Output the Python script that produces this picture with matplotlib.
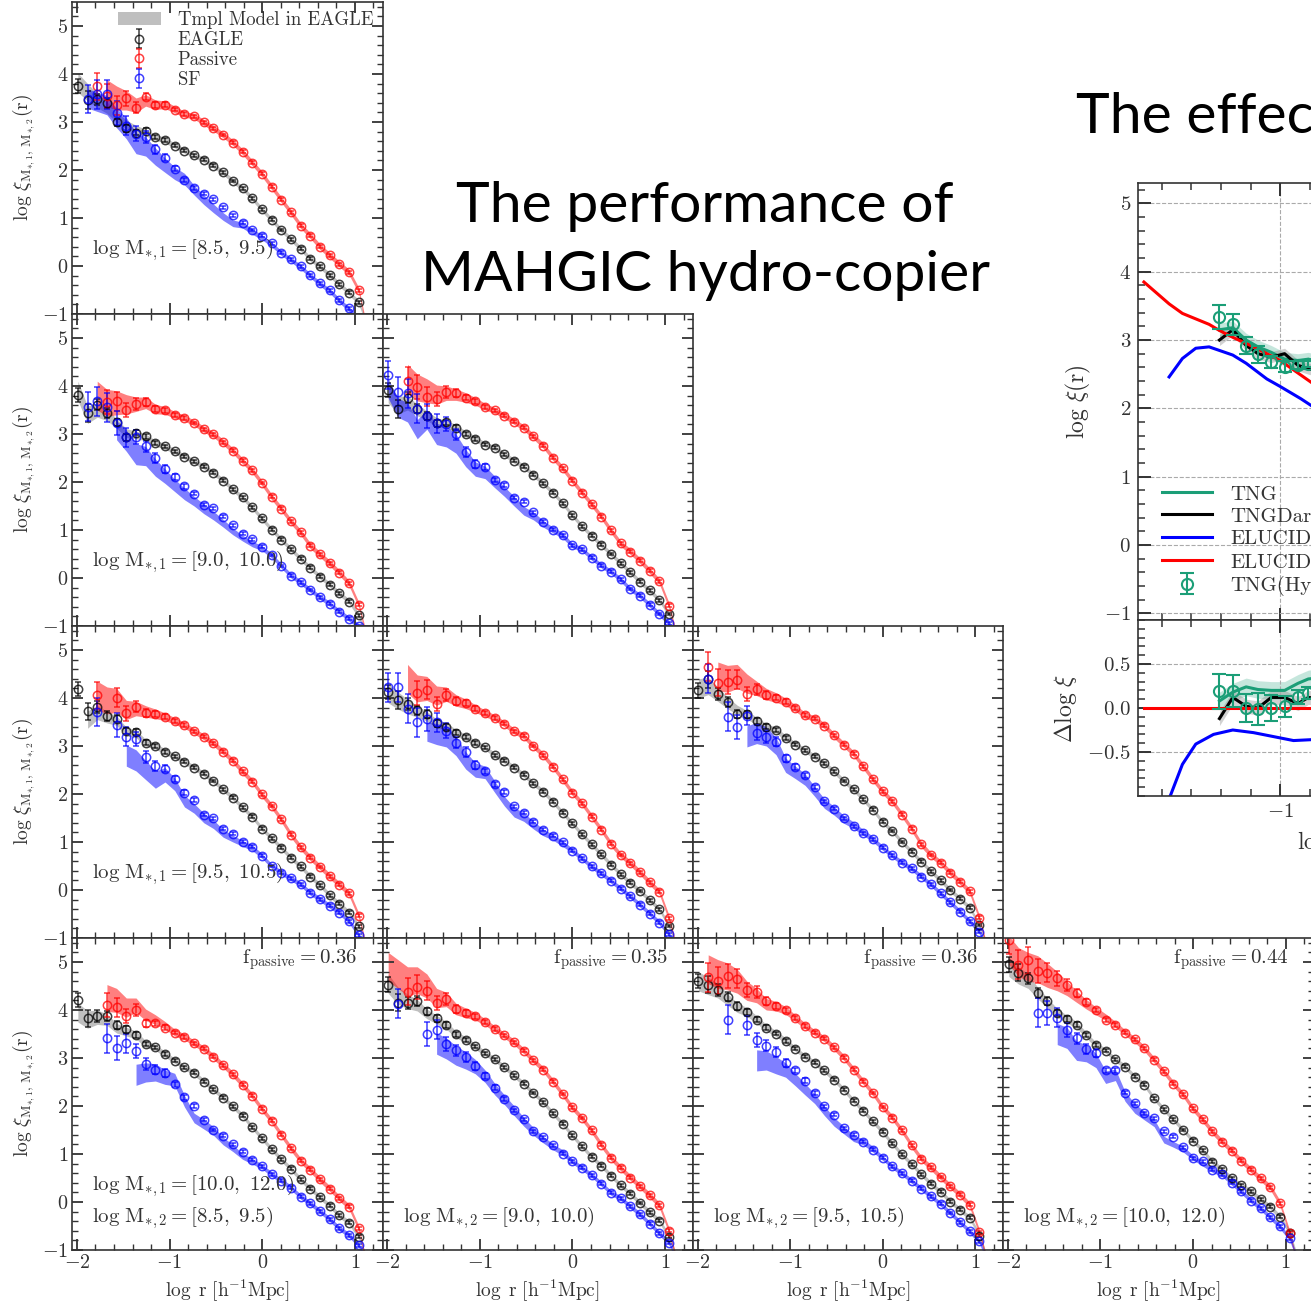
import numpy as np
import matplotlib as mpl
mpl.use('agg')
import matplotlib.pyplot as plt
from matplotlib.ticker import MultipleLocator, NullFormatter
from matplotlib.patches import Patch

nan = np.nan

# radial bins (log r [h^-1 Mpc]) and the model grid (one extra bin at large r)
logr = [-1.990, -1.885, -1.781, -1.676, -1.572, -1.467, -1.362, -1.258, -1.153, -1.049,
        -0.944, -0.839, -0.735, -0.630, -0.526, -0.421, -0.316, -0.212, -0.107, -0.003,
        0.102, 0.207, 0.311, 0.416, 0.520, 0.625, 0.730, 0.834, 0.939, 1.043]
logr_mod = logr + [1.15]

mbins = ['[8.5,\\ 9.5)', '[9.0,\\ 10.0)', '[9.5,\\ 10.5)', '[10.0,\\ 12.0)']
f_passive = [0.36, 0.35, 0.36, 0.44]

err_all = [0.15, 0.18, 0.12, 0.10, 0.08, 0.07, 0.06, 0.05, 0.04, 0.04] + [0.03]*20
err_pas = [0.30, 0.30, 0.28, 0.25, 0.20, 0.15, 0.12, 0.08, 0.06, 0.05, 0.04, 0.04] + [0.03]*18
err_sf = [0.30, 0.30, 0.30, 0.30, 0.25, 0.20, 0.15, 0.12, 0.10, 0.08, 0.06, 0.05, 0.04] + [0.03]*17

hw_all = [0.20, 0.18, 0.15, 0.12, 0.10, 0.09, 0.08, 0.07, 0.06, 0.06] + [0.05]*21
hw_pas = [0.30, 0.30, 0.30, 0.28, 0.25, 0.20, 0.15, 0.12, 0.10, 0.08, 0.07] + [0.06]*20
hw_sf = [0.20, 0.20, 0.20, 0.20, 0.20, 0.22, 0.22, 0.20, 0.18, 0.15, 0.13, 0.12, 0.10, 0.10,
         0.09, 0.08, 0.07, 0.06, 0.06] + [0.05]*12

# ---- row 0 ----
xi_all_00 = [3.75,3.46,3.47,3.40,2.99,2.87,2.78,2.82,2.68,2.62,2.51,2.40,2.31,2.21,2.09,1.95,1.77,1.62,1.41,1.18,0.96,0.75,0.56,0.36,0.15,-0.01,-0.19,-0.38,-0.56,-0.76]
xi_pas_00 = [nan,nan,3.74,3.55,3.35,3.49,3.30,3.53,3.36,3.36,3.26,3.16,3.12,2.99,2.87,2.73,2.57,2.38,2.15,1.92,1.65,1.38,1.12,0.84,0.63,0.40,0.22,0.04,-0.13,-0.51]
xi_sf_00 = [nan,3.48,3.58,3.58,3.18,2.92,2.76,2.69,2.43,2.26,2.03,1.79,1.62,1.51,1.39,1.22,1.06,0.90,0.75,0.63,0.47,0.28,0.14,-0.01,-0.19,-0.36,-0.51,-0.71,-0.88,nan]
mod_all_00 = [3.82,3.62,3.45,3.3,3.1,2.95,2.85,2.78,2.68,2.62,2.51,2.40,2.31,2.21,2.09,1.95,1.77,1.62,1.41,1.18,0.96,0.75,0.56,0.36,0.15,-0.01,-0.19,-0.38,-0.56,-0.76,-1.3]
mod_pas_00 = [nan,nan,nan,3.6,3.5,3.45,3.35,3.45,3.36,3.36,3.26,3.16,3.12,2.99,2.87,2.73,2.57,2.38,2.15,1.92,1.65,1.38,1.12,0.84,0.63,0.40,0.22,0.04,-0.13,-0.51,-1.5]
mod_sf_00 = [nan,3.49,3.42,3.35,3.08,2.87,2.56,2.49,2.28,2.10,1.93,1.81,1.58,1.38,1.20,1.03,0.89,0.85,0.72,0.60,0.45,0.27,0.13,-0.02,-0.20,-0.37,-0.52,-0.72,-0.9,-1.1,-1.4]

# ---- row 1 ----
xi_all_10 = [3.81,3.44,3.61,3.44,3.24,2.93,3.03,2.95,2.81,2.74,2.64,2.53,2.43,2.32,2.19,2.03,1.85,1.68,1.47,1.24,1.01,0.80,0.60,0.40,0.21,0.03,-0.14,-0.32,-0.49,-0.78]
xi_pas_10 = [nan,nan,nan,3.66,3.68,3.50,3.63,3.66,3.52,3.49,3.40,3.33,3.23,3.10,2.99,2.83,2.65,2.44,2.24,1.98,1.69,1.44,1.18,0.95,0.67,0.49,0.31,0.11,-0.11,-0.56]
xi_sf_10 = [nan,3.57,3.68,3.56,3.22,2.93,2.94,2.74,2.50,2.27,2.10,1.91,1.76,1.53,1.45,1.28,1.10,0.92,0.81,0.65,0.48,0.25,0.05,-0.09,-0.25,-0.40,-0.54,-0.70,-0.85,-1.0]
mod_all_10 = [3.9,3.4,3.5,3.4,3.22,3.02,2.98,2.93,2.81,2.74,2.64,2.53,2.43,2.32,2.19,2.03,1.85,1.68,1.47,1.24,1.01,0.80,0.60,0.40,0.21,0.03,-0.14,-0.32,-0.49,-0.78,-1.3]
mod_pas_10 = [nan,nan,3.8,3.65,3.65,3.62,3.62,3.65,3.52,3.49,3.40,3.33,3.23,3.10,2.99,2.83,2.65,2.44,2.24,1.98,1.69,1.44,1.18,0.95,0.67,0.49,0.31,0.11,-0.11,-0.56,-1.4]
mod_sf_10 = [nan,nan,nan,nan,3.08,2.86,2.58,2.54,2.30,2.12,1.93,1.75,1.60,1.44,1.30,1.14,0.97,0.83,0.71,0.62,0.47,0.25,0.05,-0.09,-0.25,-0.40,-0.54,-0.70,-0.85,-1.0,-1.3]

xi_all_11 = [3.92,3.52,3.76,3.53,3.38,3.22,3.24,3.13,3.00,2.90,2.78,2.71,2.58,2.44,2.32,2.15,1.97,1.78,1.56,1.31,1.08,0.88,0.69,0.50,0.31,0.12,-0.08,-0.26,-0.46,-0.75]
xi_pas_11 = [nan,nan,4.11,3.97,3.78,3.73,3.87,3.85,3.76,3.68,3.57,3.49,3.38,3.26,3.13,2.95,2.76,2.51,2.29,2.03,1.78,1.54,1.28,0.99,0.72,0.55,0.36,0.15,-0.07,-0.58]
xi_sf_11 = [4.23,3.88,3.85,3.53,3.38,3.22,3.21,2.99,2.62,2.38,2.31,2.04,1.93,1.67,1.59,1.37,1.17,1.01,0.89,0.68,0.60,0.42,0.26,0.13,-0.03,-0.23,-0.37,-0.56,-0.75,-0.94]
mod_all_11 = [3.85,3.6,3.65,3.5,3.38,3.25,3.2,3.13,3.00,2.90,2.78,2.71,2.58,2.44,2.32,2.15,1.97,1.78,1.56,1.31,1.08,0.88,0.69,0.50,0.31,0.12,-0.08,-0.26,-0.46,-0.75,-1.3]
mod_pas_11 = [nan,nan,4.15,3.97,3.9,3.82,3.85,3.82,3.76,3.68,3.57,3.49,3.38,3.26,3.13,2.95,2.76,2.51,2.29,2.03,1.78,1.54,1.28,0.99,0.72,0.55,0.36,0.15,-0.07,-0.58,-1.4]
mod_sf_11 = [3.95,3.55,3.45,3.1,3.3,3.0,2.95,2.8,2.5,2.27,2.2,2.0,1.8,1.6,1.4,1.29,1.13,1.0,0.89,0.68,0.60,0.42,0.26,0.13,-0.03,-0.23,-0.37,-0.56,-0.75,-0.94,-1.3]

# ---- row 2 ----
xi_all_20 = [4.19,3.72,3.81,3.63,3.57,3.31,3.29,3.07,3.00,2.88,2.79,2.67,2.55,2.42,2.27,2.10,1.92,1.72,1.53,1.28,1.08,0.88,0.67,0.49,0.28,0.10,-0.11,-0.29,-0.47,-0.76]
xi_pas_20 = [nan,nan,4.06,nan,4.01,3.68,3.82,3.69,3.67,3.61,3.52,3.43,3.31,3.19,3.06,2.88,2.69,2.47,2.26,1.99,1.75,1.47,1.15,0.89,0.67,0.48,0.29,0.11,-0.07,-0.54]
xi_sf_20 = [nan,nan,3.71,nan,3.44,3.19,3.14,2.77,2.58,2.53,2.32,2.03,1.87,1.57,1.49,1.28,1.17,1.01,0.90,0.71,0.50,0.36,0.24,0.12,-0.06,-0.19,-0.33,-0.47,-0.65,-0.94]
mod_all_20 = [nan,3.55,3.7,3.6,3.53,3.3,3.25,3.07,3.00,2.88,2.79,2.67,2.55,2.42,2.27,2.10,1.92,1.72,1.53,1.28,1.08,0.88,0.67,0.49,0.28,0.10,-0.11,-0.29,-0.47,-0.76,-1.3]
mod_pas_20 = [nan,nan,4.05,3.95,3.95,3.75,3.78,3.72,3.67,3.61,3.52,3.43,3.31,3.19,3.06,2.88,2.69,2.47,2.26,1.99,1.75,1.47,1.15,0.89,0.67,0.48,0.29,0.11,-0.07,-0.54,-1.4]
mod_sf_20 = [nan,nan,nan,nan,nan,2.8,2.7,2.5,2.3,2.4,2.2,1.85,1.7,1.5,1.37,1.18,1.07,0.97,0.88,0.71,0.50,0.36,0.24,0.12,-0.06,-0.19,-0.33,-0.47,-0.65,-0.94,-1.3]

xi_all_21 = [4.13,3.96,3.88,3.74,3.66,3.47,3.40,3.28,3.18,3.06,2.97,2.81,2.69,2.55,2.40,2.22,2.05,1.84,1.61,1.39,1.16,0.95,0.74,0.53,0.33,0.15,-0.02,-0.21,-0.40,-0.75]
xi_pas_21 = [nan,nan,nan,4.10,4.17,3.87,4.06,3.94,3.89,3.78,3.68,3.59,3.46,3.31,3.21,3.00,2.81,2.57,2.31,2.03,1.81,1.53,1.26,0.96,0.73,0.56,0.37,0.16,-0.04,-0.59]
xi_sf_21 = [4.22,4.22,3.78,3.49,3.56,3.49,3.32,3.07,2.88,2.60,2.47,2.20,2.05,1.74,1.61,1.42,1.26,1.13,0.99,0.82,0.66,0.49,0.35,0.19,0.03,-0.13,-0.31,-0.49,-0.68,-0.92]
mod_all_21 = [4.1,3.95,3.82,3.72,3.62,3.47,3.40,3.28,3.18,3.06,2.97,2.81,2.69,2.55,2.40,2.22,2.05,1.84,1.61,1.39,1.16,0.95,0.74,0.53,0.33,0.15,-0.02,-0.21,-0.40,-0.75,-1.3]
mod_pas_21 = [nan,nan,4.4,4.2,4.2,4.05,4.08,3.95,3.88,3.78,3.68,3.59,3.46,3.31,3.21,3.00,2.81,2.57,2.31,2.03,1.81,1.53,1.26,0.96,0.73,0.56,0.37,0.16,-0.04,-0.59,-1.4]
mod_sf_21 = [nan,nan,nan,nan,3.3,3.25,3.2,3.0,2.7,2.5,2.45,2.15,1.85,1.62,1.52,1.35,1.2,1.1,0.97,0.82,0.66,0.49,0.35,0.19,0.03,-0.13,-0.31,-0.49,-0.68,-0.92,-1.3]

xi_all_22 = [4.16,4.39,4.08,3.92,3.67,3.66,3.52,3.40,3.33,3.17,3.03,2.91,2.78,2.64,2.47,2.27,2.10,1.89,1.67,1.42,1.23,1.00,0.80,0.59,0.39,0.20,0.00,-0.18,-0.37,-0.73]
xi_pas_22 = [nan,4.65,4.32,4.33,4.38,4.08,4.18,4.06,4.01,3.92,3.79,3.64,3.57,3.42,3.22,3.03,2.84,2.58,2.31,2.06,1.85,1.57,1.28,0.95,0.73,0.57,0.36,0.17,-0.03,-0.58]
xi_sf_22 = [nan,4.40,nan,3.61,3.40,3.63,3.28,3.19,3.09,2.74,2.56,2.39,2.15,1.85,1.69,1.49,1.33,1.18,1.06,0.88,0.72,0.57,0.45,0.28,0.12,-0.07,-0.26,-0.45,-0.65,-0.87]
mod_all_22 = [4.2,4.25,4.08,3.9,3.75,3.65,3.52,3.40,3.33,3.17,3.03,2.91,2.78,2.64,2.47,2.27,2.10,1.89,1.67,1.42,1.23,1.00,0.80,0.59,0.39,0.20,0.00,-0.18,-0.37,-0.73,-1.3]
mod_pas_22 = [nan,nan,4.45,4.4,4.45,4.3,4.2,4.08,4.01,3.92,3.79,3.64,3.57,3.42,3.22,3.03,2.84,2.58,2.31,2.06,1.85,1.57,1.28,0.95,0.73,0.57,0.36,0.17,-0.03,-0.58,-1.4]
mod_sf_22 = [nan,nan,nan,nan,nan,3.2,3.27,3.2,3.0,2.6,2.45,2.3,2.05,1.8,1.65,1.47,1.35,1.2,1.06,0.88,0.72,0.57,0.45,0.28,0.12,-0.07,-0.26,-0.45,-0.65,-0.87,-1.3]

# ---- row 3 ----
xi_all_30 = [4.21,3.83,3.88,3.88,3.69,3.60,3.48,3.29,3.22,3.08,2.94,2.81,2.69,2.51,2.35,2.17,1.99,1.80,1.56,1.33,1.10,0.89,0.69,0.47,0.28,0.10,-0.08,-0.28,-0.43,-0.72]
xi_pas_30 = [nan,nan,nan,4.10,4.06,3.88,4.00,3.72,3.72,3.63,3.53,3.44,3.31,3.19,3.03,2.85,2.66,2.44,2.21,1.94,1.69,1.40,1.12,0.86,0.67,0.47,0.28,0.08,-0.10,-0.55]
xi_sf_30 = [nan,nan,nan,3.41,3.20,3.31,3.15,2.87,2.76,2.69,2.45,2.18,2.00,1.71,1.50,1.38,1.20,1.05,0.88,0.74,0.58,0.44,0.30,0.11,-0.03,-0.19,-0.36,-0.55,-0.69,-0.90]
mod_all_30 = [3.95,3.8,3.85,3.8,3.62,3.55,3.48,3.29,3.22,3.08,2.94,2.81,2.69,2.51,2.35,2.17,1.99,1.80,1.56,1.33,1.10,0.89,0.69,0.47,0.28,0.10,-0.08,-0.28,-0.43,-0.72,-1.3]
mod_pas_30 = [nan,nan,nan,4.25,4.2,4.05,4.1,3.9,3.8,3.68,3.53,3.44,3.31,3.19,3.03,2.85,2.66,2.44,2.21,1.94,1.69,1.40,1.12,0.86,0.67,0.47,0.28,0.08,-0.10,-0.55,-1.5]
mod_sf_30 = [nan,nan,nan,nan,nan,nan,2.65,2.7,2.7,2.6,2.55,2.1,1.75,1.62,1.48,1.27,1.12,0.95,0.85,0.74,0.58,0.44,0.30,0.11,-0.03,-0.19,-0.36,-0.55,-0.69,-0.90,-1.3]

xi_all_31 = [4.53,4.15,4.15,4.19,3.97,3.83,3.68,3.49,3.38,3.24,3.10,2.97,2.81,2.64,2.46,2.27,2.08,1.85,1.63,1.39,1.16,0.94,0.76,0.55,0.35,0.17,-0.02,-0.21,-0.39,-0.72]
xi_pas_31 = [nan,nan,4.38,4.47,4.40,4.15,4.23,4.02,3.94,3.87,3.75,3.61,3.47,3.33,3.15,2.95,2.76,2.51,2.25,1.97,1.75,1.49,1.19,0.92,0.71,0.51,0.33,0.14,-0.07,-0.60]
xi_sf_31 = [nan,4.13,nan,nan,3.50,3.59,3.29,3.16,3.02,2.84,2.62,2.38,2.15,1.91,1.72,1.47,1.35,1.18,1.01,0.85,0.71,0.56,0.38,0.19,0.08,-0.09,-0.26,-0.45,-0.65,-0.85]
mod_all_31 = [4.55,4.3,4.18,4.1,3.92,3.8,3.68,3.49,3.38,3.24,3.10,2.97,2.81,2.64,2.46,2.27,2.08,1.85,1.63,1.39,1.16,0.94,0.76,0.55,0.35,0.17,-0.02,-0.21,-0.39,-0.72,-1.3]
mod_pas_31 = [4.9,4.75,4.6,4.62,4.5,4.25,4.22,4.02,3.94,3.87,3.75,3.61,3.47,3.33,3.15,2.95,2.76,2.51,2.25,1.97,1.75,1.49,1.19,0.92,0.71,0.51,0.33,0.14,-0.07,-0.60,-1.4]
mod_sf_31 = [nan,nan,nan,nan,nan,3.3,3.2,3.05,2.95,2.82,2.62,2.35,2.13,1.9,1.67,1.47,1.3,1.15,1.03,0.85,0.71,0.56,0.38,0.19,0.08,-0.09,-0.26,-0.45,-0.65,-0.85,-1.3]

xi_all_32 = [4.60,4.53,4.42,4.28,4.08,3.96,3.80,3.63,3.51,3.36,3.19,3.03,2.90,2.74,2.55,2.34,2.11,1.90,1.68,1.46,1.22,0.99,0.79,0.58,0.38,0.21,0.01,-0.16,-0.33,-0.70]
xi_pas_32 = [nan,4.68,4.61,4.70,4.65,4.42,4.38,4.19,4.08,3.99,3.83,3.67,3.53,3.40,3.22,3.01,2.76,2.51,2.27,1.98,1.76,1.49,1.18,0.90,0.72,0.52,0.33,0.15,-0.06,-0.63]
xi_sf_32 = [nan,nan,nan,3.80,nan,3.68,3.38,3.26,3.13,2.90,2.74,2.53,2.27,1.99,1.82,1.54,1.40,1.26,1.09,0.92,0.74,0.60,0.44,0.28,0.12,-0.04,-0.23,-0.42,-0.61,-0.82]
mod_all_32 = [4.6,4.5,4.4,4.22,4.05,3.96,3.80,3.63,3.51,3.36,3.19,3.03,2.90,2.74,2.55,2.34,2.11,1.90,1.68,1.46,1.22,0.99,0.79,0.58,0.38,0.21,0.01,-0.16,-0.33,-0.68,-1.3]
mod_pas_32 = [nan,4.85,4.75,4.7,4.6,4.4,4.3,4.12,4.08,3.99,3.83,3.67,3.53,3.40,3.22,3.01,2.76,2.51,2.27,1.98,1.76,1.49,1.18,0.90,0.72,0.52,0.33,0.15,-0.06,-0.63,-1.4]
mod_sf_32 = [nan,nan,nan,nan,nan,nan,2.95,2.95,2.85,2.75,2.55,2.35,2.15,1.9,1.67,1.5,1.33,1.25,1.1,0.92,0.74,0.60,0.44,0.28,0.12,-0.04,-0.23,-0.42,-0.61,-0.82,-1.3]

xi_all_33 = [4.95,4.78,4.66,4.36,4.19,3.94,3.81,3.69,3.48,3.27,3.15,2.97,2.82,2.61,2.44,2.16,1.93,1.72,1.50,1.28,1.08,0.84,0.68,0.49,0.35,0.22,0.06,-0.10,-0.31,-0.64]
xi_pas_33 = [5.46,4.94,5.04,4.82,4.78,4.66,4.52,4.35,4.17,4.00,3.79,3.69,3.53,3.39,3.20,2.96,2.72,2.46,2.24,1.95,1.72,1.47,1.26,1.07,0.86,0.67,0.49,0.31,-0.03,-0.65]
xi_sf_33 = [nan,nan,nan,3.94,3.94,3.84,3.58,3.41,3.19,3.11,2.74,2.74,2.28,2.06,1.85,1.74,1.47,1.36,1.14,0.91,0.85,0.67,0.58,0.40,0.22,0.03,-0.13,-0.32,-0.51,-0.76]
mod_all_33 = [4.9,4.72,4.6,4.35,4.15,3.94,3.81,3.69,3.48,3.27,3.15,2.97,2.82,2.61,2.44,2.16,1.93,1.72,1.50,1.28,1.08,0.84,0.68,0.49,0.35,0.22,0.06,-0.10,-0.31,-0.64,-1.3]
mod_pas_33 = [5.25,5.0,4.9,4.85,4.72,4.6,4.45,4.28,4.12,3.98,3.85,3.7,3.53,3.38,3.2,2.96,2.72,2.46,2.24,1.95,1.72,1.47,1.26,1.07,0.86,0.67,0.49,0.31,-0.03,-0.65,-1.5]
mod_sf_33 = [nan,nan,nan,nan,nan,3.5,3.42,3.15,3.1,2.95,2.6,2.65,2.2,1.95,1.8,1.65,1.3,1.2,1.1,0.93,0.8,0.67,0.58,0.40,0.22,0.03,-0.13,-0.32,-0.51,-0.76,-1.3]

# ---- inset: effect of baryons (TNG / ELUCID) ----
tng_x = [-1.41, -1.32, -1.23, -1.15, -1.06, -0.97, -0.88, -0.81, -0.70]
tng_y = [3.15, 3.18, 3.00, 2.90, 2.82, 2.72, 2.70, 2.72, 2.66]
tngdark_y = [3.00, 3.15, 2.92, 2.80, 2.75, 2.80, 2.63, 2.58, 2.52]
tnghc_x = [-1.41, -1.32, -1.23, -1.15, -1.06, -0.97, -0.88, -0.81]
tnghc_y = [3.34, 3.23, 2.92, 2.79, 2.68, 2.61, 2.63, 2.65]
tnghc_err = [0.18, 0.15, 0.12, 0.12, 0.09, 0.08, 0.06, 0.05]
eluc_red_x = [-1.92, -1.75, -1.66, -1.48, -1.41, -1.32, -1.18, -1.00, -0.79, -0.60]
eluc_red_y = [3.85, 3.53, 3.39, 3.23, 3.14, 3.04, 2.90, 2.70, 2.38, 2.10]
eluc_blue_x = [-1.75, -1.66, -1.57, -1.48, -1.32, -1.23, -1.09, -1.00, -0.86, -0.79, -0.60]
eluc_blue_y = [2.46, 2.73, 2.88, 2.90, 2.78, 2.66, 2.43, 2.32, 2.14, 2.04, 1.85]
d_blue_x = [-1.76, -1.74, -1.66, -1.57, -1.45, -1.32, -1.18, -1.00, -0.91, -0.79, -0.60]
d_blue_y = [-1.05, -0.99, -0.64, -0.41, -0.30, -0.25, -0.28, -0.34, -0.37, -0.36, -0.33]
d_tng_y = [0.08, 0.18, 0.24, 0.21, 0.20, 0.20, 0.28, 0.33, 0.35]
d_dark_y = [-0.12, 0.12, 0.02, 0.00, 0.12, 0.12, 0.05, 0.12, 0.10]
d_tnghc_y = [0.19, 0.19, 0.00, -0.01, 0.00, 0.02, 0.12, 0.17]
d_tnghc_err = [0.20, 0.18, 0.16, 0.18, 0.15, 0.12, 0.08, 0.07]

panels = {
    (0, 0): (xi_all_00, xi_pas_00, xi_sf_00, mod_all_00, mod_pas_00, mod_sf_00),
    (1, 0): (xi_all_10, xi_pas_10, xi_sf_10, mod_all_10, mod_pas_10, mod_sf_10),
    (1, 1): (xi_all_11, xi_pas_11, xi_sf_11, mod_all_11, mod_pas_11, mod_sf_11),
    (2, 0): (xi_all_20, xi_pas_20, xi_sf_20, mod_all_20, mod_pas_20, mod_sf_20),
    (2, 1): (xi_all_21, xi_pas_21, xi_sf_21, mod_all_21, mod_pas_21, mod_sf_21),
    (2, 2): (xi_all_22, xi_pas_22, xi_sf_22, mod_all_22, mod_pas_22, mod_sf_22),
    (3, 0): (xi_all_30, xi_pas_30, xi_sf_30, mod_all_30, mod_pas_30, mod_sf_30),
    (3, 1): (xi_all_31, xi_pas_31, xi_sf_31, mod_all_31, mod_pas_31, mod_sf_31),
    (3, 2): (xi_all_32, xi_pas_32, xi_sf_32, mod_all_32, mod_pas_32, mod_sf_32),
    (3, 3): (xi_all_33, xi_pas_33, xi_sf_33, mod_all_33, mod_pas_33, mod_sf_33),
}

gray_txt = '#333333'
plt.rcParams.update({
    'font.family': 'serif',
    'font.serif': ['cmr10'],
    'mathtext.fontset': 'cm',
    'axes.formatter.use_mathtext': True,
    'axes.unicode_minus': False,
    'text.color': gray_txt,
    'axes.labelcolor': gray_txt,
    'axes.edgecolor': gray_txt,
    'xtick.color': gray_txt,
    'ytick.color': gray_txt,
    'axes.linewidth': 1.2,
})

W, H = 1311, 1304
fig = plt.figure(figsize=(W/100, H/100), dpi=100)


def style_ticks(ax, big=False):
    ax.tick_params(which='both', direction='in', top=True, right=True)
    if big:
        ax.tick_params(which='major', length=9, width=1.4, labelsize=15, pad=5)
        ax.tick_params(which='minor', length=5, width=1.1)
    else:
        ax.tick_params(which='major', length=8, width=1.3, labelsize=14.5, pad=3)
        ax.tick_params(which='minor', length=4, width=1.0)


def draw_panel(ax, xi_all, xi_pas, xi_sf, mod_all, mod_pas, mod_sf):
    for mod, hw, c in [(mod_all, hw_all, 'gray'), (mod_pas, hw_pas, 'red'), (mod_sf, hw_sf, 'blue')]:
        m = np.array(mod)
        h = np.array(hw)
        ax.fill_between(logr_mod, m - h, m + h, color=c, alpha=0.5, lw=0)
    hs = []
    for xi, err, c in [(xi_all, err_all, 'black'), (xi_pas, err_pas, 'red'), (xi_sf, err_sf, 'blue')]:
        eb = ax.errorbar(logr, xi, yerr=err, fmt='o', ms=6, mfc='none', mec=c, mew=1.1,
                         ecolor=c, elinewidth=1.1, capsize=2, alpha=0.75)
        hs.append(eb)
    ax.set_xlim(-2.05, 1.3)
    ax.set_ylim(-1, 5.5)
    ax.xaxis.set_major_locator(MultipleLocator(1))
    ax.xaxis.set_minor_locator(MultipleLocator(0.2))
    ax.yaxis.set_major_locator(MultipleLocator(1))
    ax.yaxis.set_minor_locator(MultipleLocator(0.2))
    style_ticks(ax)
    return hs


col_left = [72.3, 382.6, 692.9, 1003.2]
row_top = [2, 314, 626, 938]
pw, ph = 310.3, 312

for (i, j), data in panels.items():
    ax = fig.add_axes([col_left[j]/W, 1 - (row_top[i] + ph)/H, pw/W, ph/H])
    hs = draw_panel(ax, *data)
    if j == 0:
        ax.set_ylabel(r'$\log\,\xi_{\rm M_{*,1},\,M_{*,2}}(\rm r)$', fontsize=14, labelpad=3)
        ax.text(0.065, 0.205, r'$\log\,\rm M_{*,1} = ' + mbins[i] + '$',
                transform=ax.transAxes, fontsize=15, va='center', ha='left')
    else:
        ax.yaxis.set_major_formatter(NullFormatter())
    if i == 3:
        ax.set_xlabel(r'$\log\ \rm r\ [h^{-1}Mpc]$', fontsize=14, labelpad=4)
        ax.text(0.065, 0.103, r'$\log\,\rm M_{*,2} = ' + mbins[j] + '$',
                transform=ax.transAxes, fontsize=15, va='center', ha='left')
        ax.text(0.92, 0.93, r'$\rm f_{passive} = %.2f$' % f_passive[j],
                transform=ax.transAxes, fontsize=15, va='center', ha='right')
    else:
        ax.xaxis.set_major_formatter(NullFormatter())
    if (i, j) == (0, 0):
        tmpl = Patch(facecolor='gray', alpha=0.5, lw=0)
        ax.legend([tmpl] + hs, ['Tmpl Model in EAGLE', 'EAGLE', 'Passive', 'SF'],
                  loc='upper right', frameon=False, fontsize=13.5, handlelength=2.3,
                  labelspacing=0.1, borderaxespad=0.1, handletextpad=0.9)

# titles on the slide
fig.text(705/W, 1 - 241/H, 'The performance of\nMAHGIC hydro-copier', ha='center', va='center',
         fontsize=41, family='Lato', color='black', linespacing=1.45)
fig.text(1076/W, 1 - 117/H, 'The effect of baryons on clustering', ha='left', va='center',
         fontsize=41, family='Lato', color='black')

# inset panel: log xi
green = '#1b9e77'
ax1 = fig.add_axes([1138/W, 1 - 620/H, 468/W, 437/H])
ax1.fill_between(tng_x, np.array(tng_y) - 0.1, np.array(tng_y) + 0.1, color=green, alpha=0.25, lw=0)
ax1.fill_between(tng_x, np.array(tngdark_y) - 0.08, np.array(tngdark_y) + 0.08, color='gray', alpha=0.35, lw=0)
ax1.plot(tng_x, tng_y, color=green, lw=2.2, label='TNG')
ax1.plot(tng_x, tngdark_y, color='black', lw=2.2, label='TNGDark')
ax1.plot(eluc_blue_x, eluc_blue_y, color='blue', lw=2.2, label='ELUCID(SW)')
ax1.plot(eluc_red_x, eluc_red_y, color='red', lw=2.2, label='ELUCID(Hydro)')
ax1.errorbar(tnghc_x, tnghc_y, yerr=tnghc_err, fmt='o', ms=8, mfc='none', mec=green, mew=1.5,
             ecolor=green, elinewidth=1.5, capsize=5, label='TNG(Hydro-copier)')
ax1.set_xlim(-1.96, 1.2)
ax1.set_ylim(-1.1, 5.3)
ax1.xaxis.set_major_locator(MultipleLocator(1))
ax1.xaxis.set_minor_locator(MultipleLocator(0.2))
ax1.yaxis.set_major_locator(MultipleLocator(1))
ax1.yaxis.set_minor_locator(MultipleLocator(0.2))
ax1.xaxis.set_major_formatter(NullFormatter())
ax1.grid(True, which='major', ls='--', color='#aaaaaa', lw=0.8)
style_ticks(ax1, big=True)
ax1.set_ylabel(r'$\log\,\xi(\rm r)$', fontsize=17, labelpad=8)
ax1.legend(loc='lower left', frameon=False, fontsize=15, handlelength=2.4,
           labelspacing=0.16, borderaxespad=0.75, handletextpad=0.9)

# inset panel: delta log xi
ax2 = fig.add_axes([1138/W, 1 - 796/H, 468/W, 176/H])
ax2.fill_between(tng_x, np.array(d_tng_y) - 0.1, np.array(d_tng_y) + 0.1, color=green, alpha=0.25, lw=0)
ax2.fill_between(tng_x, np.array(d_dark_y) - 0.08, np.array(d_dark_y) + 0.08, color='gray', alpha=0.35, lw=0)
ax2.plot(tng_x, d_tng_y, color=green, lw=2.2)
ax2.plot(tng_x, d_dark_y, color='black', lw=2.2)
ax2.plot(d_blue_x, d_blue_y, color='blue', lw=2.2)
ax2.plot([eluc_red_x[0], eluc_red_x[-1]], [0, 0], color='red', lw=2.2)
ax2.errorbar(tnghc_x, d_tnghc_y, yerr=d_tnghc_err, fmt='o', ms=8, mfc='none', mec=green, mew=1.5,
             ecolor=green, elinewidth=1.5, capsize=5)
ax2.set_xlim(-1.96, 1.2)
ax2.set_ylim(-1, 1)
ax2.xaxis.set_major_locator(MultipleLocator(1))
ax2.xaxis.set_minor_locator(MultipleLocator(0.2))
ax2.yaxis.set_minor_locator(MultipleLocator(0.1))
ax2.set_yticks([-0.5, 0.0, 0.5])
ax2.grid(True, which='major', ls='--', color='#aaaaaa', lw=0.8)
style_ticks(ax2, big=True)
ax2.set_ylabel(r'$\Delta\log\,\xi$', fontsize=17, labelpad=6)
ax2.set_xlabel(r'$\log\ \rm r\ [h^{-1}Mpc]$', fontsize=17)

fig.savefig('out.png', dpi=100, facecolor='w')
